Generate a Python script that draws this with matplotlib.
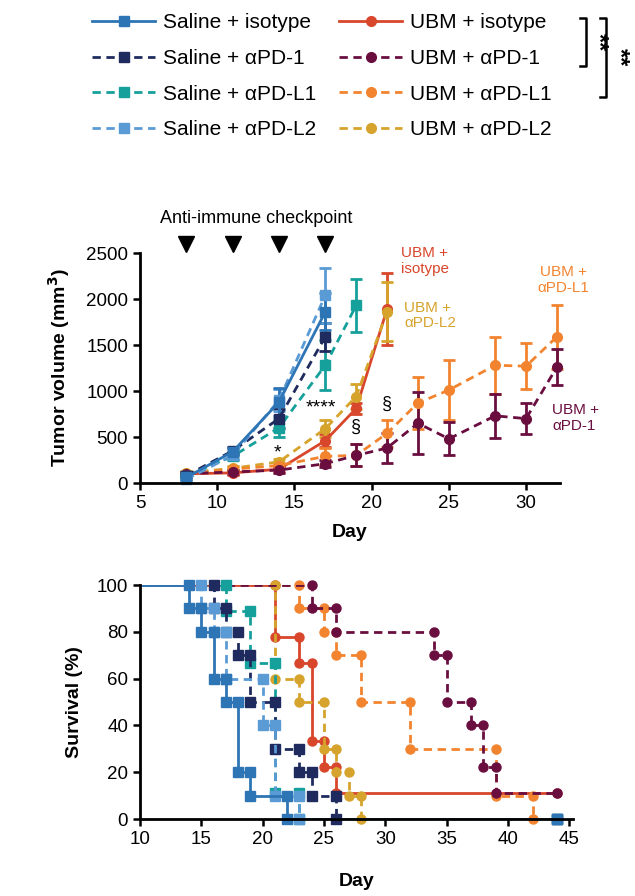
import matplotlib
matplotlib.use("Agg")
import matplotlib.pyplot as plt
from matplotlib.lines import Line2D

plt.rcParams['font.family'] = ['Liberation Sans', 'DejaVu Sans']

# ---------------- data ----------------
names = ["Saline + isotype", "Saline + αPD-1", "Saline + αPD-L1", "Saline + αPD-L2",
         "UBM + isotype", "UBM + αPD-1", "UBM + αPD-L1", "UBM + αPD-L2"]
colors = ["#2E75B6", "#1F2B5E", "#16A09C", "#5B9BD5",
          "#D8462C", "#6A0E40", "#F28430", "#D6A32C"]
markers = ["s", "s", "s", "s", "o", "o", "o", "o"]
styles = ["-", "--", "--", "--", "-", "--", "--", "--"]

# tumour volume (mm^3) mean and error
tv_days = [
    [8, 11, 14, 17],
    [8, 11, 14, 17],
    [8, 11, 14, 17, 19],
    [8, 11, 14, 17],
    [8, 11, 14, 17, 19, 21],
    [8, 11, 14, 17, 19, 21, 23, 25, 28, 30, 32],
    [8, 11, 14, 17, 19, 21, 23, 25, 28, 30, 32],
    [8, 11, 14, 17, 19, 21],
]
tv_mean = [
    [60, 340, 880, 1860],
    [80, 350, 700, 1590],
    [80, 290, 600, 1280, 1930],
    [40, 300, 900, 2040],
    [100, 110, 150, 460, 810, 1890],
    [100, 120, 140, 210, 300, 380, 650, 480, 730, 700, 1260],
    [100, 150, 190, 290, 300, 540, 870, 1010, 1280, 1270, 1590],
    [110, 160, 230, 590, 940, 1860],
]
tv_err = [
    [20, 40, 150, 200],
    [20, 40, 100, 150],
    [20, 40, 100, 270, 290],
    [20, 40, 120, 300],
    [20, 20, 30, 70, 60, 390],
    [20, 20, 30, 40, 120, 160, 340, 180, 240, 170, 200],
    [20, 20, 30, 90, 120, 150, 280, 330, 310, 250, 350],
    [20, 20, 30, 90, 140, 320],
]
dose_days = [8, 11, 14, 17]

# survival: event days and survival (%) after each event
sv_t = [
    [14, 15, 16, 17, 18, 19, 22],
    [16, 17, 18, 19, 21, 23, 24, 26],
    [17, 19, 21, 23],
    [15, 16, 17, 20, 21, 23],
    [21, 23, 24, 25, 26],
    [24, 26, 34, 35, 37, 38, 39],
    [23, 25, 26, 28, 32, 39, 42],
    [21, 23, 25, 26, 27, 28],
]
sv_s = [
    [90, 80, 60, 50, 20, 10, 0],
    [90, 80, 70, 50, 30, 20, 10, 0],
    [88.9, 66.7, 11.1, 0],
    [90, 80, 60, 40, 10, 0],
    [77.8, 66.7, 33.3, 22.2, 11.1],
    [90, 80, 70, 50, 40, 22.2, 11.1],
    [90, 80, 70, 50, 30, 10, 0],
    [60, 50, 30, 20, 10, 0],
]
sv_start, sv_end = 8, 44

# ---------------- figure ----------------
W, H = 635, 896
fig = plt.figure(figsize=(W / 100, H / 100), dpi=100)

def style_axes(ax):
    for s in ["top", "right"]:
        ax.spines[s].set_visible(False)
    for s in ["left", "bottom"]:
        ax.spines[s].set_linewidth(2.0)
    ax.tick_params(direction="out", width=1.8, length=5, labelsize=13.5)

dash = (3.0, 2.0)

# ---- top: tumour volume ----
ax1 = fig.add_axes([140 / W, 1 - 483 / H, 420 / W, 230 / H])
style_axes(ax1)
order = [4, 7, 6, 5, 2, 1, 3, 0]
for i in order:
    kw = dict(color=colors[i], lw=2.0, marker=markers[i], ms=7, mec=colors[i],
              elinewidth=2.0, capsize=4, capthick=2.0, clip_on=False)
    eb = ax1.errorbar(tv_days[i], tv_mean[i], yerr=tv_err[i], linestyle=styles[i], **kw)
    if styles[i] == "--":
        eb.lines[0].set_dashes(dash)
ax1.set_xlim(5, 32.2)
ax1.set_ylim(0, 2500)
ax1.set_xticks([5, 10, 15, 20, 25, 30])
ax1.set_yticks([0, 500, 1000, 1500, 2000, 2500])
ax1.set_xlabel("Day", fontsize=14, fontweight="bold", labelpad=9)
ax1.set_ylabel("Tumor volume (mm$^\\mathbf{3}$)", fontsize=14, fontweight="bold", labelpad=10)

ax1.plot(dose_days, [2600] * len(dose_days), linestyle="none", marker="v",
         color="black", ms=11, clip_on=False)
ax1.text(12.5, 2870, "Anti-immune checkpoint", ha="center", va="center", fontsize=13)
ax1.text(13.9, 330, "*", ha="center", va="center", fontsize=14)
ax1.text(16.7, 820, "****", ha="center", va="center", fontsize=14)
ax1.text(21.0, 860, "§", ha="center", va="center", fontsize=13)
ax1.text(19.0, 600, "§", ha="center", va="center", fontsize=13)
ax1.text(21.9, 2410, "UBM +\nisotype", ha="left", va="center", fontsize=11,
         color=colors[4], linespacing=1.15)
ax1.text(22.1, 1820, "UBM +\nαPD-L2", ha="left", va="center", fontsize=11,
         color=colors[7], linespacing=1.15)
ax1.text(32.4, 2210, "UBM +\nαPD-L1", ha="center", va="center", fontsize=11,
         color=colors[6], linespacing=1.15, clip_on=False)
ax1.text(31.7, 710, "UBM +\nαPD-1", ha="left", va="center", fontsize=11,
         color=colors[5], linespacing=1.15, clip_on=False)

# ---- bottom: survival ----
ax2 = fig.add_axes([140 / W, 1 - 819 / H, 433 / W, 234 / H])
style_axes(ax2)
for i in order:
    xs, ys = [sv_start], [100]
    prev = 100
    for t, s in zip(sv_t[i], sv_s[i]):
        xs += [t, t]
        ys += [prev, s]
        prev = s
    xs.append(sv_end)
    ys.append(prev)
    ln, = ax2.plot(xs, ys, color=colors[i], lw=2.0, linestyle=styles[i], clip_on=True)
    if styles[i] == "--":
        ln.set_dashes(dash)
    ax2.plot(xs[1:], ys[1:], linestyle="none", marker=markers[i], ms=6.5,
             color=colors[i], clip_on=False)
ax2.set_xlim(10, 45.3)
ax2.set_ylim(0, 100)
ax2.set_xticks([10, 15, 20, 25, 30, 35, 40, 45])
ax2.set_yticks([0, 20, 40, 60, 80, 100])
ax2.set_xlabel("Day", fontsize=14, fontweight="bold", labelpad=18)
ax2.set_ylabel("Survival (%)", fontsize=14, fontweight="bold", labelpad=10)

# ---- legend ----
handles = []
for i in range(8):
    h = Line2D([], [], color=colors[i], lw=2.0, linestyle=styles[i],
               marker=markers[i], ms=7)
    if styles[i] == "--":
        h.set_dashes(dash)
    handles.append(h)
fig.legend(handles, names, ncol=2, loc="upper left", bbox_to_anchor=(84 / W, 1 - 5 / H),
           borderaxespad=0, frameon=False, fontsize=15, handlelength=3.0,
           handletextpad=0.4, columnspacing=1.1, labelspacing=0.8, numpoints=1)

# significance brackets
def bracket(x, y0, y1, txt_x):
    fx = lambda v: v / W
    fy = lambda v: 1 - v / H
    fig.add_artist(Line2D([fx(x - 6), fx(x), fx(x), fx(x - 6)],
                          [fy(y0), fy(y0), fy(y1), fy(y1)], color="black", lw=1.8))
    fig.text(fx(txt_x), fy((y0 + y1) / 2), "**", rotation=270, ha="center",
             va="center", fontsize=17, fontweight="bold")

bracket(586, 18, 66, 598)
bracket(606, 18, 97, 619)

fig.savefig("out.png", dpi=100)
